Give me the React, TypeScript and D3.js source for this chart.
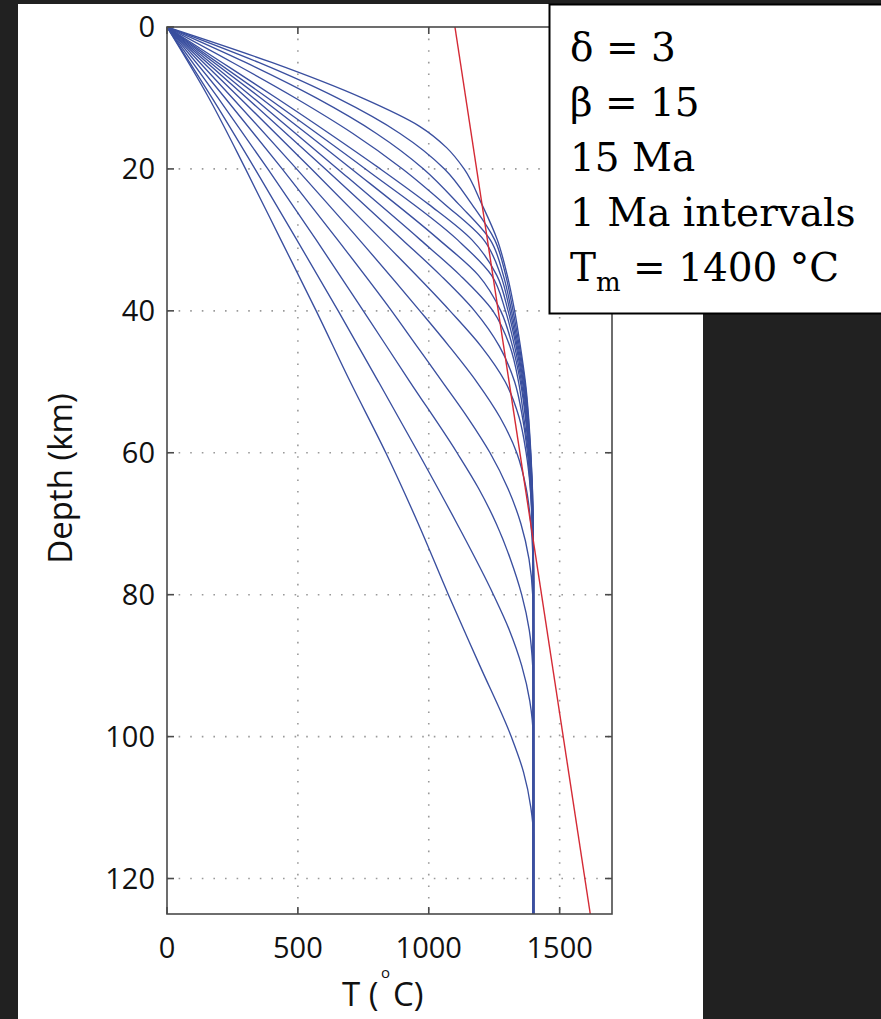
import React from 'react';
import * as d3 from 'd3';

// Geotherms after lithospheric stretching, one per Ma (depth km, temperature °C)
const geotherm1Ma: [number, number][] = [[0, 0], [5, 400], [10, 745], [14, 965], [17, 1068], [20, 1135], [25, 1203], [30, 1262], [35, 1300], [40, 1328], [45, 1350], [50, 1369], [60, 1390], [70, 1399], [78, 1400], [125, 1400]];
const geotherm2Ma: [number, number][] = [[0, 0], [5, 350], [10, 650], [15, 890], [20, 1060], [25, 1165], [30, 1252], [35, 1294], [40, 1322], [45, 1346], [50, 1367], [60, 1389], [70, 1399], [78, 1400], [125, 1400]];
const geotherm3Ma: [number, number][] = [[0, 0], [5, 300], [10, 570], [15, 800], [20, 980], [25, 1115], [30, 1235], [35, 1285], [40, 1316], [45, 1342], [50, 1364], [60, 1388], [70, 1398], [78, 1400], [125, 1400]];
const geotherm4Ma: [number, number][] = [[0, 0], [5, 250], [10, 490], [15, 710], [20, 900], [25, 1062], [30, 1210], [35, 1275], [40, 1310], [45, 1338], [50, 1361], [60, 1387], [70, 1398], [78, 1400], [125, 1400]];
const geotherm5Ma: [number, number][] = [[0, 0], [5, 210], [10, 418], [15, 620], [20, 815], [25, 1000], [30, 1165], [35, 1260], [40, 1303], [45, 1334], [50, 1358], [60, 1386], [70, 1398], [78, 1400], [125, 1400]];
const geotherm6Ma: [number, number][] = [[0, 0], [10, 385], [20, 758], [30, 1110], [35, 1240], [40, 1293], [45, 1328], [50, 1354], [60, 1384], [70, 1397], [78, 1400], [125, 1400]];
const geotherm7Ma: [number, number][] = [[0, 0], [10, 358], [20, 705], [30, 1040], [35, 1190], [40, 1275], [45, 1320], [50, 1350], [60, 1382], [70, 1397], [78, 1400], [125, 1400]];
const geotherm8Ma: [number, number][] = [[0, 0], [10, 330], [20, 652], [30, 968], [35, 1120], [40, 1245], [45, 1310], [50, 1343], [55, 1363], [60, 1380], [70, 1396], [78, 1400], [125, 1400]];
const geotherm9Ma: [number, number][] = [[0, 0], [10, 305], [20, 605], [30, 900], [35, 1045], [40, 1175], [45, 1270], [50, 1328], [55, 1358], [60, 1377], [70, 1395], [78, 1400], [125, 1400]];
const geotherm10Ma: [number, number][] = [[0, 0], [10, 278], [20, 552], [30, 820], [40, 1081], [45, 1200], [50, 1292], [55, 1345], [60, 1372], [65, 1388], [70, 1396], [78, 1400], [125, 1400]];
const geotherm11Ma: [number, number][] = [[0, 0], [10, 250], [20, 495], [30, 735], [40, 966], [45, 1078], [50, 1183], [55, 1272], [60, 1336], [65, 1372], [70, 1390], [75, 1398], [80, 1400], [125, 1400]];
const geotherm12Ma: [number, number][] = [[0, 0], [10, 222], [20, 440], [30, 652], [40, 858], [45, 955], [50, 1052], [55, 1148], [60, 1234], [65, 1302], [70, 1352], [75, 1383], [80, 1397], [85, 1400], [125, 1400]];
const geotherm13Ma: [number, number][] = [[0, 0], [10, 195], [20, 385], [30, 570], [40, 750], [50, 928], [60, 1108], [65, 1190], [70, 1258], [75, 1312], [80, 1355], [85, 1384], [90, 1397], [94, 1400], [125, 1400]];
const geotherm14Ma: [number, number][] = [[0, 0], [10, 172], [20, 336], [30, 496], [40, 654], [50, 808], [60, 960], [70, 1108], [80, 1247], [85, 1308], [90, 1355], [95, 1386], [100, 1399], [104, 1400], [125, 1400]];
const geotherm15Ma: [number, number][] = [[0, 0], [10, 160], [20, 300], [30, 435], [40, 570], [50, 700], [60, 836], [70, 960], [80, 1075], [90, 1195], [100, 1315], [105, 1362], [110, 1390], [114, 1400], [125, 1400]];

const geotherms = [
  geotherm1Ma, geotherm2Ma, geotherm3Ma, geotherm4Ma, geotherm5Ma,
  geotherm6Ma, geotherm7Ma, geotherm8Ma, geotherm9Ma, geotherm10Ma,
  geotherm11Ma, geotherm12Ma, geotherm13Ma, geotherm14Ma, geotherm15Ma,
];

// Straight reference line (depth km, temperature °C)
const solidus: [number, number][] = [[0, 1100], [125, 1617]];

const tempTicks = [0, 500, 1000, 1500];
const depthTicks = [0, 20, 40, 60, 80, 100, 120];
const tempDomain = [0, 1700];
const depthDomain = [0, 125];

const legendLines = ['δ = 3', 'β = 15', '15 Ma', '1 Ma intervals'];

const W = 881;
const H = 1019;
const PLOT = { left: 167, right: 612, top: 27, bottom: 914 };
const SANS = "'Open Sans', 'DejaVu Sans', sans-serif";
const SERIF = "'DejaVu Serif', 'Liberation Serif', serif";

export default function App() {
  const x = d3.scaleLinear().domain(tempDomain).range([PLOT.left, PLOT.right]);
  const y = d3.scaleLinear().domain(depthDomain).range([PLOT.top, PLOT.bottom]);

  const line = d3
    .line<[number, number]>()
    .x((d) => x(d[1]))
    .y((d) => y(d[0]))
    .curve(d3.curveMonotoneY);

  const straight = d3
    .line<[number, number]>()
    .x((d) => x(d[1]))
    .y((d) => y(d[0]));

  const tickLen = 7;
  const axisColor = '#4a4a4a';
  const gridColor = '#9a9a9a';

  return (
    <svg
      width={W}
      height={H}
      style={{ position: 'absolute', left: 0, top: 0, display: 'block' }}
    >
      <rect x={0} y={0} width={W} height={H} fill="#212121" />
      <rect x={18} y={4} width={685} height={H - 4} fill="#ffffff" />

      <defs>
        <clipPath id="plotClip">
          <rect x={PLOT.left} y={PLOT.top} width={PLOT.right - PLOT.left} height={PLOT.bottom - PLOT.top} />
        </clipPath>
      </defs>

      {/* dotted grid */}
      <g stroke={gridColor} strokeWidth={1.6} strokeDasharray="1.6 10" fill="none">
        {tempTicks.filter((t) => t > 0).map((t) => (
          <line key={'gx' + t} x1={x(t)} x2={x(t)} y1={PLOT.top} y2={PLOT.bottom} />
        ))}
        {depthTicks.filter((d) => d > 0).map((d) => (
          <line key={'gy' + d} x1={PLOT.left} x2={PLOT.right} y1={y(d)} y2={y(d)} />
        ))}
      </g>

      {/* curves */}
      <g clipPath="url(#plotClip)" fill="none">
        {geotherms.map((g, i) => (
          <path key={'g' + i} d={line(g) || ''} stroke="#3a4f9f" strokeWidth={1.35} />
        ))}
        <path d={straight(solidus) || ''} stroke="#d42a35" strokeWidth={1.4} />
      </g>

      {/* axes box and inward ticks */}
      <rect
        x={PLOT.left}
        y={PLOT.top}
        width={PLOT.right - PLOT.left}
        height={PLOT.bottom - PLOT.top}
        fill="none"
        stroke={axisColor}
        strokeWidth={1.6}
      />
      <g stroke={axisColor} strokeWidth={1.6}>
        {tempTicks.map((t) => (
          <g key={'tx' + t}>
            <line x1={x(t)} x2={x(t)} y1={PLOT.bottom} y2={PLOT.bottom - tickLen} />
            <line x1={x(t)} x2={x(t)} y1={PLOT.top} y2={PLOT.top + tickLen} />
          </g>
        ))}
        {depthTicks.map((d) => (
          <g key={'ty' + d}>
            <line x1={PLOT.left} x2={PLOT.left + tickLen} y1={y(d)} y2={y(d)} />
            <line x1={PLOT.right} x2={PLOT.right - tickLen} y1={y(d)} y2={y(d)} />
          </g>
        ))}
      </g>

      {/* tick labels */}
      <g fontFamily={SANS} fontSize={29} fill="#111">
        {depthTicks.map((d) => (
          <text key={'ly' + d} x={155} y={y(d) + 10} textAnchor="end">
            {d}
          </text>
        ))}
        {tempTicks.map((t) => (
          <text key={'lx' + t} x={x(t)} y={958} textAnchor="middle">
            {t}
          </text>
        ))}
      </g>

      {/* axis titles */}
      <text
        fontFamily={SANS}
        fontSize={33}
        fill="#111"
        textAnchor="middle"
        transform={`translate(72, ${(PLOT.top + PLOT.bottom) / 2 + 8}) rotate(-90)`}
      >
        Depth (km)
      </text>
      <text x={342} y={1006} fontFamily={SANS} fontSize={33} fill="#111">
        T (
        <tspan x={381} dy={-28} fontSize={15}>o</tspan>
        <tspan x={393} dy={28}>C)</tspan>
      </text>

      {/* parameter box */}
      <rect x={549.5} y={4.5} width={340} height={309} fill="#ffffff" stroke="#000" strokeWidth={2} />
      <g fontFamily={SERIF} fontSize={39} fill="#000">
        {legendLines.map((s, i) => (
          <text key={'lg' + i} x={570} y={61 + i * 55}>
            {s}
          </text>
        ))}
        <text x={570} y={281}>
          T
          <tspan fontSize={26} dy={10}>m</tspan>
          <tspan dy={-10}> = 1400 °C</tspan>
        </text>
      </g>
    </svg>
  );
}
